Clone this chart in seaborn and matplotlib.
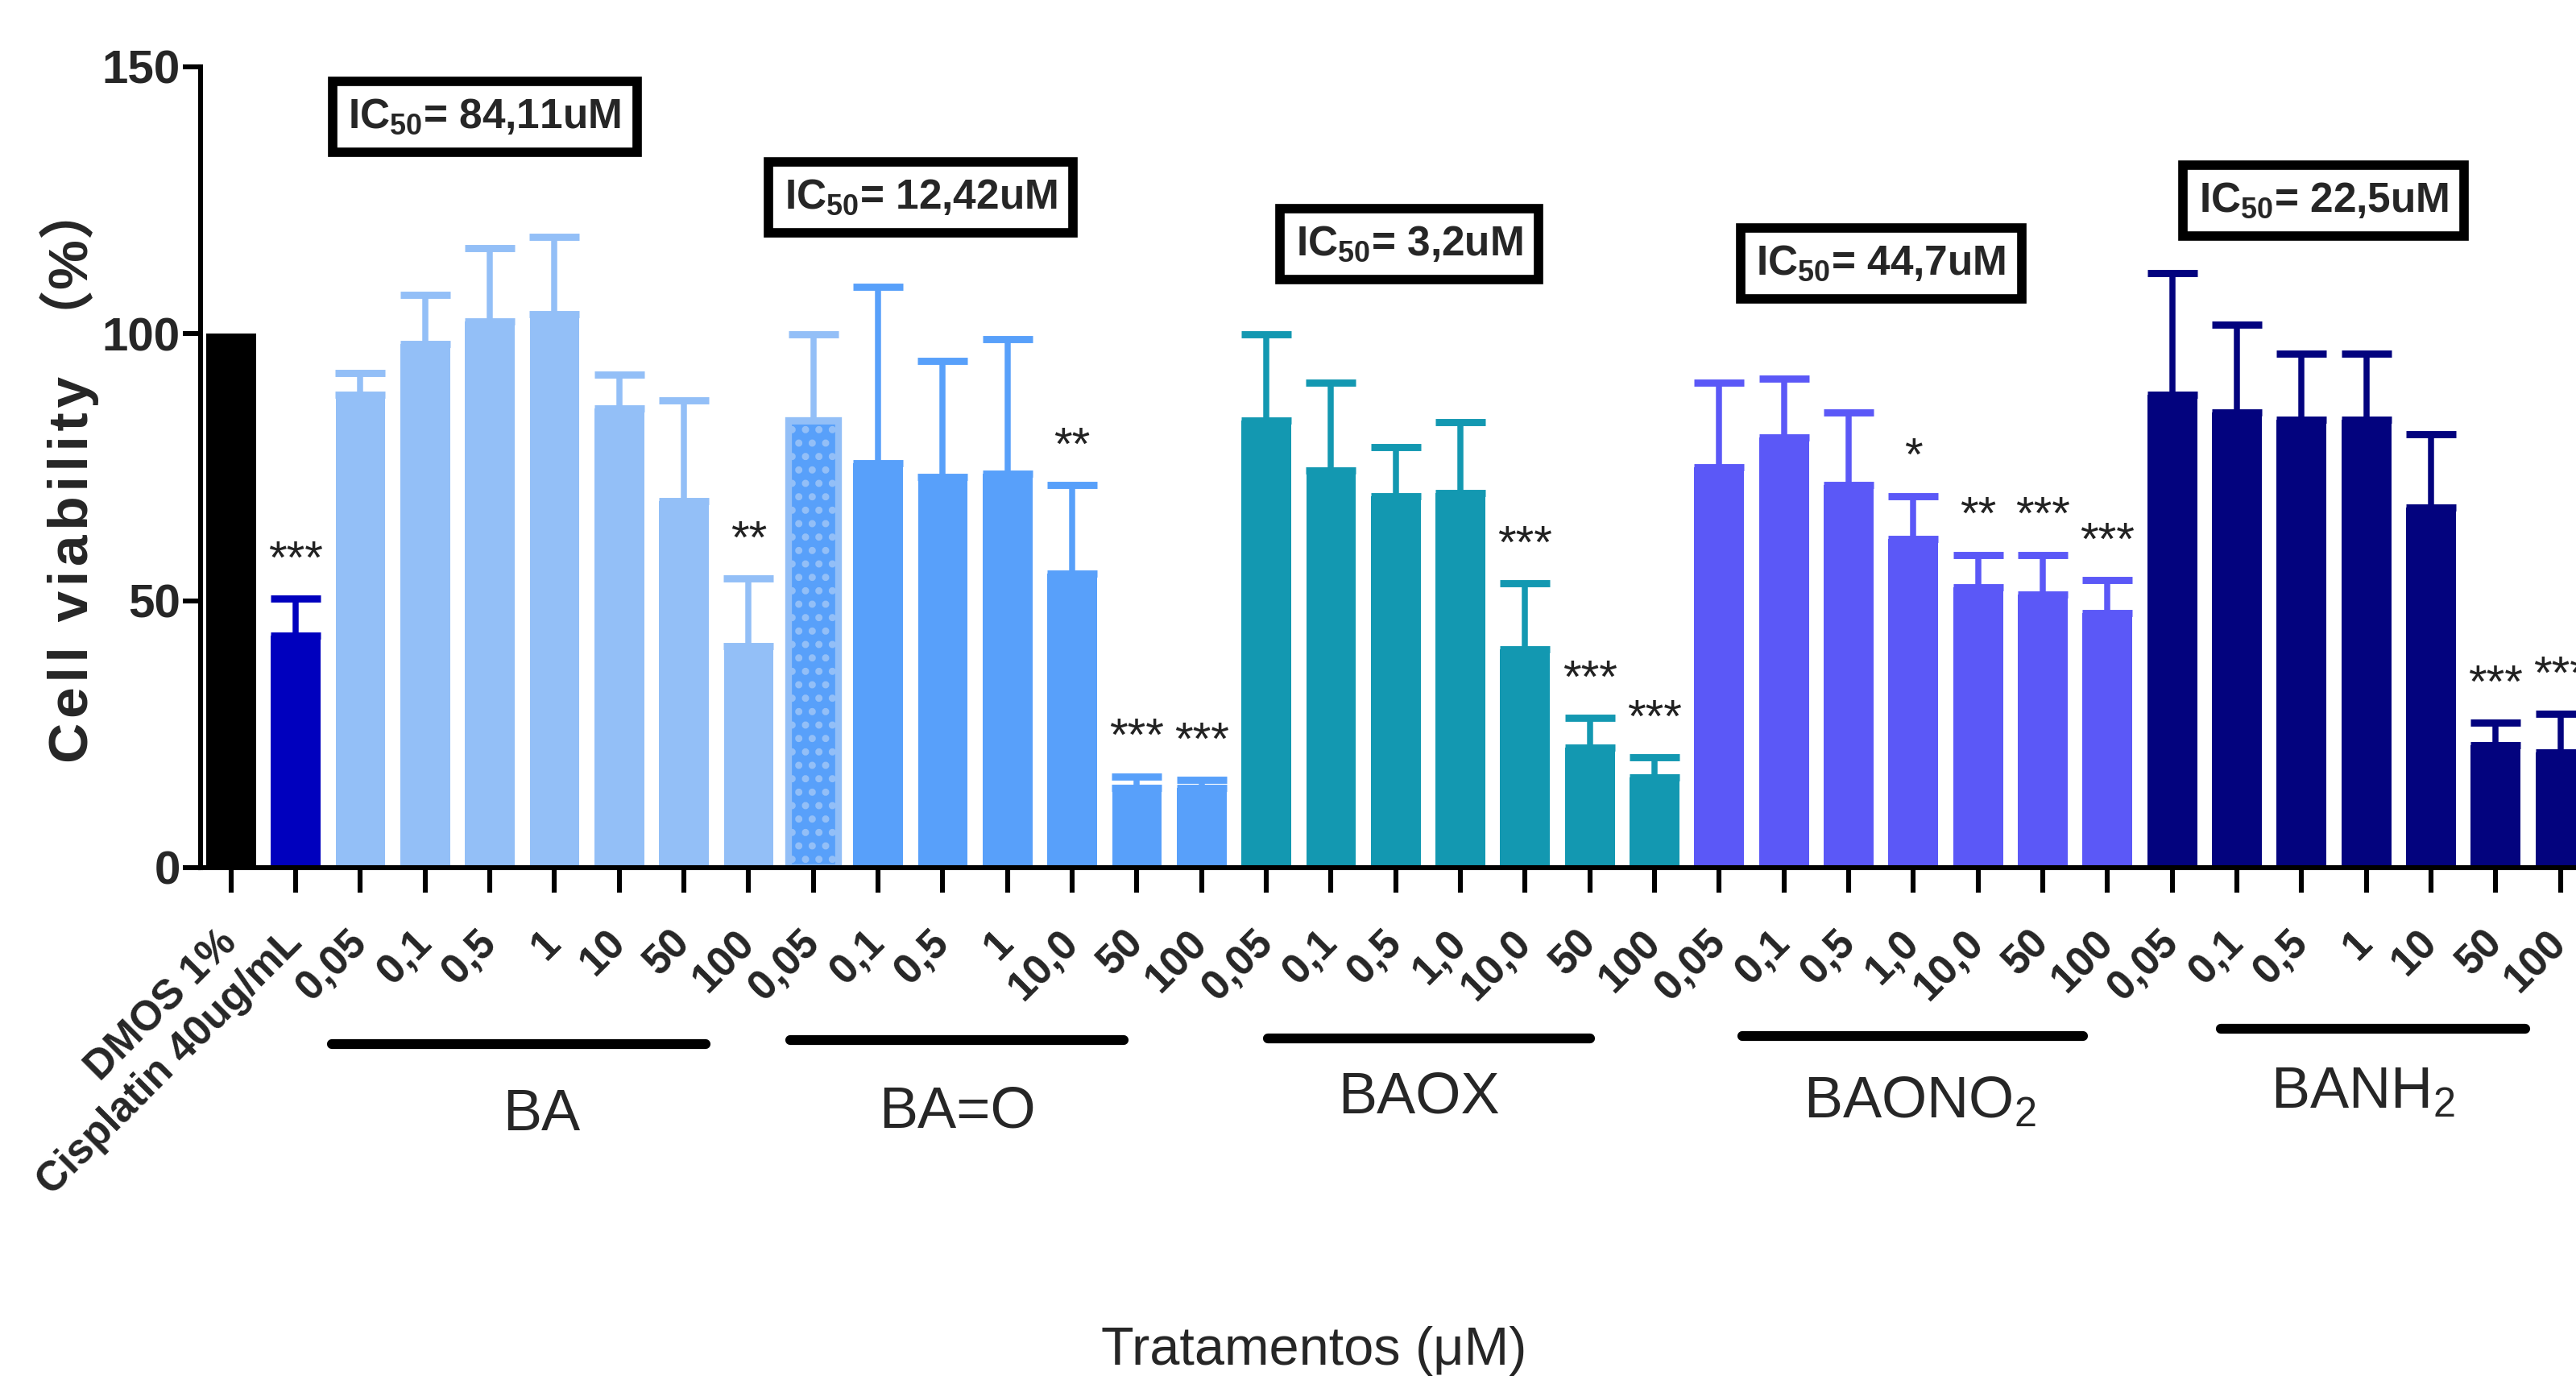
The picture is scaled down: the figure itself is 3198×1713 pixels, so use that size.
import matplotlib
matplotlib.use("Agg")
import matplotlib.pyplot as plt
from matplotlib import font_manager
import seaborn as sns
import pandas as pd

# Data (cell viability %, mean and SD)
control_label = "DMOS 1%"
control_mean = 100.0
control_sd = 0.0

cis_label = "Cisplatin 40ug/mL"
cis_mean = 43.5
cis_sd = 6.9

compounds = ["BA", "BA=O", "BAOX", "BAONO2", "BANH2"]
compound_titles = ["BA", "BA=O", "BAOX", r"BAONO$_\mathrm{2}$", r"BANH$_\mathrm{2}$"]
ic50_text = ["84,11uM", "12,42uM", "3,2uM", "44,7uM", "22,5uM"]

doses_ba = ["0,05", "0,1", "0,5", "1", "10", "50", "100"]
doses_bao = ["0,05", "0,1", "0,5", "1", "10,0", "50", "100"]
doses_baox = ["0,05", "0,1", "0,5", "1,0", "10,0", "50", "100"]
doses_baono2 = ["0,05", "0,1", "0,5", "1,0", "10,0", "50", "100"]
doses_banh2 = ["0,05", "0,1", "0,5", "1", "10", "50", "100"]

ba_mean = [88.5, 98.1, 102.3, 103.7, 86.0, 68.7, 41.5]
ba_sd = [4.2, 9.2, 13.7, 14.5, 6.3, 18.8, 12.6]
bao_mean = [83.7, 75.7, 73.1, 73.7, 55.1, 15.0, 15.0]
bao_sd = [16.1, 33.0, 21.8, 25.2, 16.5, 2.1, 1.4]
baox_mean = [83.7, 74.4, 69.5, 70.2, 40.9, 22.4, 16.9]
baox_sd = [16.1, 16.4, 9.2, 13.2, 12.4, 5.6, 3.7]
baono2_mean = [75.0, 80.6, 71.6, 61.5, 52.5, 51.2, 47.7]
baono2_sd = [15.8, 11.0, 13.7, 8.1, 6.1, 7.4, 6.2]
banh2_mean = [88.5, 85.2, 83.9, 83.9, 67.4, 22.9, 21.6]
banh2_sd = [22.8, 16.5, 12.4, 12.4, 13.8, 4.3, 7.2]

cis_sig = "***"
ba_sig = ["", "", "", "", "", "", "**"]
bao_sig = ["", "", "", "", "**", "***", "***"]
baox_sig = ["", "", "", "", "***", "***", "***"]
baono2_sig = ["", "", "", "*", "**", "***", "***"]
banh2_sig = ["", "", "", "", "", "***", "***"]

# colours
control_color = "#000000"
cis_color = "#0000BE"
compound_colors = ["#93BFF7", "#58A0FA", "#1398B1", "#5B58F7", "#03037E"]

# layout of the annotations (data coords)
ic50_pos = [(3.92, 140.6), (10.66, 125.5), (18.21, 116.8), (25.5, 113.2), (32.34, 124.9)]
group_line_x = [(1.56, 7.34), (8.64, 13.79), (16.02, 21.0), (23.35, 28.62), (30.75, 35.45)]
group_line_y = [-33.0, -32.3, -32.0, -31.6, -30.2]
group_label_pos = [(4.8, -49.2), (11.23, -48.6), (18.36, -45.9), (26.1, -46.9), (32.95, -45.0)]

# build table
rows = [
    dict(key="ctrl", label=control_label, group="Control", viability=control_mean, sd=control_sd, sig="", color=control_color),
    dict(key="cis", label=cis_label, group="Cisplatin", viability=cis_mean, sd=cis_sd, sig=cis_sig, color=cis_color),
]
series = [
    (doses_ba, ba_mean, ba_sd, ba_sig),
    (doses_bao, bao_mean, bao_sd, bao_sig),
    (doses_baox, baox_mean, baox_sd, baox_sig),
    (doses_baono2, baono2_mean, baono2_sd, baono2_sig),
    (doses_banh2, banh2_mean, banh2_sd, banh2_sig),
]
for name, color, (doses, means, sds, sigs) in zip(compounds, compound_colors, series):
    for d, m, s, g in zip(doses, means, sds, sigs):
        rows.append(dict(key=f"{name} {d}", label=d, group=name, viability=m, sd=s, sig=g, color=color))
df = pd.DataFrame(rows)

# fonts
sns.set_style("ticks")
names = {f.name for f in font_manager.fontManager.ttflist}
narrow = "Liberation Sans Narrow" if "Liberation Sans Narrow" in names else "Liberation Sans"
plt.rcParams["font.family"] = ["Liberation Sans", "DejaVu Sans"]
plt.rcParams["mathtext.fontset"] = "custom"
plt.rcParams["mathtext.rm"] = narrow
plt.rcParams["mathtext.bf"] = narrow + ":bold"
plt.rcParams["mathtext.it"] = narrow + ":italic"
plt.rcParams["hatch.linewidth"] = 2.0

fig = plt.figure(figsize=(15.99, 8.565), dpi=200)
ax = fig.add_axes([0.0778, 0.3713, 1 - 0.0778, 0.9517 - 0.3713])

sns.barplot(data=df, x="key", y="viability", hue="key",
            palette=dict(zip(df["key"], df["color"])), dodge=False,
            width=0.77, saturation=1, errorbar=None, legend=False, ax=ax)

for p in ax.patches:
    p.set_linewidth(0)
    i = int(round(p.get_x() + p.get_width() / 2))
    if df.loc[i, "key"] == "BA=O 0,05":
        # dotted bar of the BA=O group
        p.set_facecolor(compound_colors[1])
        p.set_edgecolor(compound_colors[0])
        p.set_linewidth(3)
        p.set_hatch("..")

# upper error bars + significance stars
for i, r in df.iterrows():
    ecol = compound_colors[0] if r["key"] == "BA=O 0,05" else r["color"]
    if r["sd"] > 0:
        ax.errorbar(i, r["viability"], yerr=[[0], [r["sd"]]], fmt="none",
                    ecolor=ecol, elinewidth=2.7, capsize=11, capthick=3.2, zorder=1)
    if r["sig"]:
        ax.text(i, r["viability"] + r["sd"] + 7, r["sig"], ha="center", va="center",
                fontsize=21, color="#222222", clip_on=False)

# IC50 boxes
for (x, y), t in zip(ic50_pos, ic50_text):
    ax.text(x, y, r"IC$_\mathbf{50}$= " + t, ha="center", va="center",
            fontsize=18.5, fontweight="bold", family=narrow,
            bbox=dict(boxstyle="square,pad=0.38", fc="white", ec="black", lw=4.2))

# group lines and labels below the axis
for (x0, x1), ly, (tx, ty), title in zip(group_line_x, group_line_y, group_label_pos, compound_titles):
    ax.plot([x0, x1], [ly, ly], color="black", lw=4.4, solid_capstyle="round", clip_on=False)
    ax.text(tx, ty, title, ha="center", va="baseline", fontsize=26, family=narrow, clip_on=False)

ax.set_xlim(-0.473, 36.24)
ax.set_ylim(0, 150)
ax.set_yticks([0, 50, 100, 150])
ax.set_yticklabels(["0", "50", "100", "150"], fontsize=21, fontweight="bold", family=narrow)
ax.set_xticks(range(len(df)))
ax.set_xticklabels(df["label"], rotation=45, ha="right", va="center", rotation_mode="anchor",
                   fontsize=18.5, fontweight="bold")
ax.tick_params(axis="x", length=11, width=2.2, pad=20, color="black")
ax.tick_params(axis="y", length=8, width=2.2, pad=1, color="black")
ax.set_xlabel("")
ax.set_ylabel("")
sns.despine(ax=ax)
for s in ["left", "bottom"]:
    ax.spines[s].set_linewidth(2.2)
    ax.spines[s].set_color("black")

# letter-spaced y title, as in the original
hair = "\u200a"
ylab = hair.join("Cell viability") + "  （%）"
fig.text(0.027, 0.657, ylab, rotation=90, ha="center", va="center",
         fontsize=25, fontweight="bold", family=["Liberation Sans", "Noto Sans CJK SC", "DejaVu Sans"])
fig.text(0.510, 0.021, "Tratamentos (μM)", ha="center", va="center",
         fontsize=24, family=[narrow, "DejaVu Sans"])

fig.savefig("out.png", dpi=200)
